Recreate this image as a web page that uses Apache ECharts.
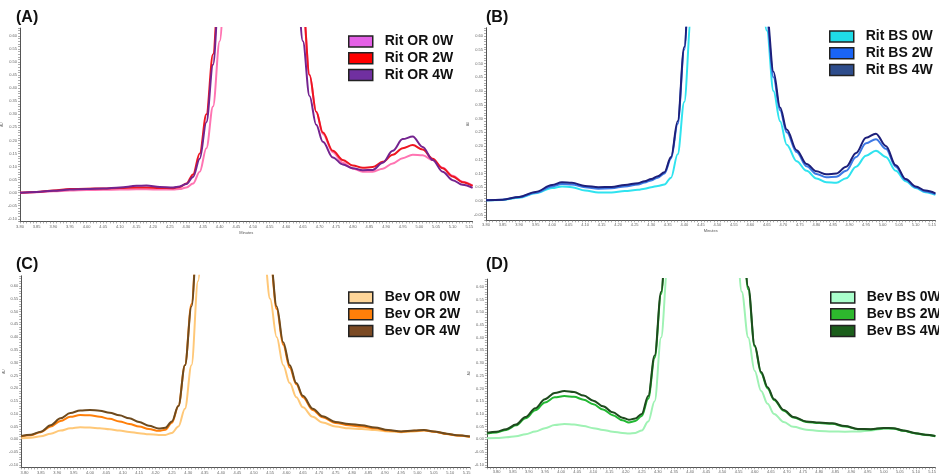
<!DOCTYPE html>
<html>
<head>
<meta charset="utf-8">
<script src="https://cdn.jsdelivr.net/npm/echarts@6/dist/echarts.min.js"></script>
<style>
html, body { margin: 0; padding: 0; background: #fff; }
#chart { width: 939px; height: 476px; }
</style>
</head>
<body>
<div id="chart"></div>
<script>
(function(g) {
    'use strict';

    // (A) Rit OR - retention time (min) and absorbance (AU)
    var xRitOR = [3.80, 3.85, 3.90, 3.95, 4.00, 4.05, 4.10, 4.15, 4.18, 4.22, 4.26, 4.28, 4.30, 4.32, 4.34, 4.36, 4.38, 4.40, 4.42, 4.45,
        4.55, 4.60, 4.63, 4.65, 4.67, 4.69, 4.71, 4.74, 4.77, 4.80, 4.83, 4.86, 4.89, 4.92, 4.95, 4.98, 5.01, 5.04, 5.07, 5.10, 5.13, 5.16];
    var ritOR0W = [0.000, 0.002, 0.005, 0.008, 0.010, 0.011, 0.012, 0.013, 0.013, 0.012, 0.012, 0.014, 0.020, 0.035, 0.08, 0.17, 0.33, 0.58, 0.90, 1.40,
        1.60, 1.50, 1.00, 0.72, 0.45, 0.31, 0.225, 0.155, 0.115, 0.092, 0.080, 0.080, 0.092, 0.112, 0.132, 0.145, 0.143, 0.125, 0.095, 0.065, 0.042, 0.027];
    var ritOR2W = [0.000, 0.003, 0.008, 0.014, 0.015, 0.016, 0.018, 0.020, 0.020, 0.018, 0.017, 0.022, 0.035, 0.07, 0.15, 0.30, 0.53, 0.85, 1.20, 1.60,
        1.60, 1.50, 1.00, 0.72, 0.45, 0.31, 0.23, 0.16, 0.125, 0.104, 0.095, 0.098, 0.118, 0.145, 0.170, 0.182, 0.165, 0.130, 0.093, 0.062, 0.040, 0.026];
    var ritOR4W = [0.000, 0.003, 0.007, 0.012, 0.014, 0.016, 0.020, 0.026, 0.027, 0.022, 0.020, 0.024, 0.033, 0.06, 0.13, 0.27, 0.49, 0.80, 1.15, 1.60,
        1.60, 1.30, 0.85, 0.58, 0.37, 0.26, 0.195, 0.135, 0.108, 0.093, 0.086, 0.087, 0.115, 0.160, 0.205, 0.215, 0.175, 0.125, 0.080, 0.048, 0.030, 0.018];

    // (B) Rit BS
    var xRitBS = [3.80, 3.85, 3.90, 3.95, 4.00, 4.03, 4.06, 4.10, 4.14, 4.18, 4.22, 4.26, 4.28, 4.30, 4.32, 4.34, 4.36, 4.38, 4.40, 4.42, 4.45,
        4.55, 4.60, 4.63, 4.65, 4.67, 4.69, 4.71, 4.74, 4.77, 4.80, 4.83, 4.86, 4.89, 4.92, 4.95, 4.98, 5.01, 5.04, 5.07, 5.10, 5.13, 5.16];
    var ritBS0W = [0.003, 0.004, 0.012, 0.028, 0.047, 0.053, 0.050, 0.038, 0.031, 0.031, 0.036, 0.041, 0.045, 0.050, 0.055, 0.060, 0.085, 0.17, 0.36, 0.66, 1.20,
        1.50, 1.05, 0.80, 0.62, 0.40, 0.29, 0.205, 0.145, 0.110, 0.082, 0.068, 0.066, 0.083, 0.125, 0.165, 0.183, 0.160, 0.110, 0.072, 0.047, 0.032, 0.022];
    var ritBS2W = [0.003, 0.005, 0.014, 0.030, 0.053, 0.062, 0.060, 0.050, 0.045, 0.046, 0.053, 0.060, 0.067, 0.075, 0.085, 0.100, 0.155, 0.28, 0.55, 0.94, 1.50,
        1.60, 1.15, 0.85, 0.65, 0.45, 0.33, 0.25, 0.178, 0.126, 0.098, 0.086, 0.088, 0.110, 0.160, 0.210, 0.225, 0.190, 0.125, 0.077, 0.050, 0.035, 0.025];
    var ritBS4W = [0.003, 0.005, 0.015, 0.033, 0.058, 0.068, 0.066, 0.055, 0.050, 0.051, 0.058, 0.065, 0.072, 0.080, 0.090, 0.105, 0.160, 0.29, 0.56, 0.95, 1.50,
        1.60, 1.20, 0.88, 0.68, 0.47, 0.34, 0.26, 0.185, 0.135, 0.108, 0.097, 0.100, 0.125, 0.175, 0.230, 0.245, 0.200, 0.130, 0.080, 0.053, 0.038, 0.028];

    // (C) Bev OR
    var xBevOR = [3.79, 3.82, 3.85, 3.88, 3.91, 3.94, 3.97, 4.00, 4.03, 4.06, 4.09, 4.12, 4.15, 4.18, 4.21, 4.23, 4.25, 4.27, 4.29, 4.31, 4.33, 4.35, 4.40,
        4.50, 4.53, 4.55, 4.57, 4.59, 4.61, 4.63, 4.65, 4.68, 4.71, 4.75, 4.79, 4.83, 4.87, 4.91, 4.95, 4.99, 5.02, 5.05, 5.09, 5.12, 5.16];
    var bevOR0W = [0.004, 0.006, 0.012, 0.022, 0.034, 0.043, 0.047, 0.046, 0.043, 0.039, 0.034, 0.029, 0.024, 0.020, 0.017, 0.017, 0.025, 0.05, 0.12, 0.29, 0.62, 1.00, 1.80,
        1.10, 0.75, 0.55, 0.40, 0.29, 0.22, 0.165, 0.125, 0.088, 0.066, 0.050, 0.043, 0.040, 0.036, 0.031, 0.028, 0.031, 0.034, 0.030, 0.021, 0.015, 0.010];
    var bevOR2W = [0.012, 0.016, 0.028, 0.050, 0.072, 0.088, 0.095, 0.094, 0.088, 0.080, 0.070, 0.060, 0.050, 0.040, 0.033, 0.037, 0.065, 0.13, 0.29, 0.53, 0.86, 1.30, 2.00,
        1.50, 0.95, 0.71, 0.51, 0.37, 0.28, 0.215, 0.165, 0.115, 0.086, 0.064, 0.055, 0.050, 0.043, 0.034, 0.030, 0.033, 0.035, 0.030, 0.021, 0.015, 0.010];
    var bevOR4W = [0.013, 0.018, 0.030, 0.055, 0.082, 0.103, 0.113, 0.115, 0.112, 0.104, 0.094, 0.082, 0.068, 0.053, 0.042, 0.045, 0.070, 0.13, 0.29, 0.52, 0.85, 1.30, 2.00,
        1.50, 0.95, 0.72, 0.52, 0.38, 0.29, 0.22, 0.17, 0.12, 0.09, 0.068, 0.060, 0.055, 0.046, 0.036, 0.031, 0.034, 0.036, 0.031, 0.022, 0.016, 0.011];

    // (D) Bev BS
    var xBevBS = [3.77, 3.80, 3.83, 3.86, 3.89, 3.92, 3.95, 3.98, 4.01, 4.04, 4.07, 4.10, 4.13, 4.16, 4.19, 4.21, 4.23, 4.25, 4.27, 4.29, 4.31, 4.33, 4.36, 4.45,
        4.50, 4.54, 4.56, 4.58, 4.60, 4.62, 4.64, 4.66, 4.69, 4.72, 4.76, 4.80, 4.84, 4.88, 4.92, 4.96, 5.00, 5.03, 5.06, 5.10, 5.13, 5.16];
    var bevBS0W = [0.004, 0.005, 0.008, 0.012, 0.020, 0.031, 0.044, 0.056, 0.060, 0.058, 0.052, 0.044, 0.037, 0.030, 0.025, 0.023, 0.025, 0.035, 0.07, 0.15, 0.40, 0.68, 1.10, 2.00,
        1.60, 0.85, 0.58, 0.40, 0.27, 0.19, 0.14, 0.10, 0.068, 0.049, 0.038, 0.033, 0.031, 0.030, 0.031, 0.035, 0.042, 0.042, 0.034, 0.024, 0.018, 0.013];
    var bevBS2W = [0.023, 0.027, 0.037, 0.055, 0.083, 0.114, 0.145, 0.165, 0.170, 0.167, 0.156, 0.138, 0.117, 0.095, 0.075, 0.066, 0.072, 0.092, 0.16, 0.32, 0.57, 0.90, 1.40, 2.00,
        2.00, 1.20, 0.84, 0.59, 0.365, 0.26, 0.20, 0.155, 0.112, 0.086, 0.068, 0.064, 0.061, 0.050, 0.040, 0.039, 0.044, 0.043, 0.034, 0.023, 0.017, 0.012];
    var bevBS4W = [0.026, 0.030, 0.040, 0.058, 0.088, 0.122, 0.158, 0.182, 0.190, 0.186, 0.172, 0.152, 0.130, 0.106, 0.085, 0.077, 0.082, 0.100, 0.17, 0.33, 0.58, 0.90, 1.40, 2.00,
        2.00, 1.20, 0.85, 0.60, 0.37, 0.265, 0.205, 0.158, 0.115, 0.088, 0.070, 0.066, 0.063, 0.052, 0.041, 0.040, 0.045, 0.044, 0.035, 0.024, 0.018, 0.013];

    var panels = [
        { tag: '(A)', x: xRitOR, names: ['Rit OR 0W', 'Rit OR 2W', 'Rit OR 4W'], ys: [ritOR0W, ritOR2W, ritOR4W],
          lines: ['#ff74b2', '#ee1520', '#74238f'], boxes: ['#e460e6', '#ff0000', '#7030a0'],
          grid: { left: 16, top: 28.1, width: 456.6, height: 193.3 }, xr: [3.80, 5.16], yr: [-0.11, 0.63],
          tagPos: [16, 10], legendPos: [348, 34.5], showName: true },
        { tag: '(B)', x: xRitBS, names: ['Rit BS 0W', 'Rit BS 2W', 'Rit BS 4W'], ys: [ritBS0W, ritBS2W, ritBS4W],
          lines: ['#2fe3ef', '#3d78e4', '#1d1f7a'], boxes: ['#1fdbe6', '#1a64f5', '#2e4d8c'],
          grid: { left: 486, top: 27.75, width: 456.6, height: 192.5 }, xr: [3.80, 5.16], yr: [-0.07, 0.63],
          tagPos: [486, 10], legendPos: [829, 29.5], showName: true },
        { tag: '(C)', x: xBevOR, names: ['Bev OR 0W', 'Bev OR 2W', 'Bev OR 4W'], ys: [bevOR0W, bevOR2W, bevOR4W],
          lines: ['#ffc878', '#ff7f0a', '#6e4a1e'], boxes: ['#ffd699', '#ff7f0a', '#7b4a24'],
          grid: { left: 21.2, top: 275.8, width: 448.7, height: 191.6 }, xr: [3.79, 5.16], yr: [-0.11, 0.64],
          tagPos: [16, 256.5], legendPos: [348, 290.5], showName: false },
        { tag: '(D)', x: xBevBS, names: ['Bev BS 0W', 'Bev BS 2W', 'Bev BS 4W'], ys: [bevBS0W, bevBS2W, bevBS4W],
          lines: ['#9ff2b4', '#22b833', '#1e4a1e'], boxes: ['#aaffcc', '#2db82d', '#1b5e1b'],
          grid: { left: 486.9, top: 279.1, width: 453.6, height: 188.2 }, xr: [3.77, 5.16], yr: [-0.11, 0.63],
          tagPos: [486, 257], legendPos: [830, 290.5], showName: false }
    ];

    function pairs(xs, ys) {
        var out = [];
        for (var i = 0; i < xs.length; i++) {
            out.push([xs[i], ys[i]]);
        }
        return out;
    }

    // only every 0.05 gets a label, ticks every 0.01
    function tickLabel(v) {
        var k = Math.round(v * 100);
        return (k % 5 === 0) ? (k / 100).toFixed(2) : '';
    }

    var axisLineStyle = { color: '#555', width: 1 };
    var grids = [], xAxes = [], yAxes = [], series = [], legends = [], titles = [];

    panels.forEach(function(p, i) {
        grids.push(p.grid);

        xAxes.push({
            type: 'value', gridIndex: i, min: p.xr[0], max: p.xr[1], interval: 0.01,
            name: p.showName ? 'Minutes' : '', nameLocation: 'middle', nameGap: 9,
            nameTextStyle: { fontSize: 4, color: '#555', fontFamily: 'Liberation Sans' },
            axisLine: { onZero: false, lineStyle: axisLineStyle },
            axisTick: { length: 2, lineStyle: { color: '#777', width: 0.6 } },
            axisLabel: { formatter: tickLabel, fontSize: 4, color: '#666', margin: 3, fontFamily: 'Liberation Sans' },
            splitLine: { show: false }
        });

        yAxes.push({
            type: 'value', gridIndex: i, min: p.yr[0], max: p.yr[1], interval: 0.01,
            name: 'AU', nameLocation: 'middle', nameGap: 6, nameRotate: 90,
            nameTextStyle: { fontSize: 3, color: '#555', fontFamily: 'Liberation Sans' },
            axisLine: { show: true, lineStyle: axisLineStyle },
            axisTick: { show: true, length: 2, lineStyle: { color: '#777', width: 0.6 } },
            axisLabel: { formatter: tickLabel, fontSize: 4, color: '#666', margin: 3, fontFamily: 'Liberation Sans' },
            splitLine: { show: false }
        });

        var legendData = [];
        p.names.forEach(function(name, j) {
            series.push({
                name: name, type: 'line', xAxisIndex: i, yAxisIndex: i,
                data: pairs(p.x, p.ys[j]),
                showSymbol: false, smooth: 0.35, smoothMonotone: 'x', clip: true,
                lineStyle: { color: p.lines[j], width: 2 },
                itemStyle: { color: p.lines[j] },
                z: 2 + j
            });
            legendData.push({ name: name, itemStyle: { color: p.boxes[j] } });
        });

        legends.push({
            data: legendData, orient: 'vertical', left: p.legendPos[0], top: p.legendPos[1],
            icon: 'rect', itemWidth: 24, itemHeight: 11, itemGap: 2.7, padding: 0,
            itemStyle: { borderColor: '#222', borderWidth: 1.5 },
            textStyle: { fontSize: 14, fontWeight: 'bold', color: '#111', fontFamily: 'Liberation Sans',
                lineHeight: 14, padding: [0, 0, 0, 7] },
            selectedMode: false
        });

        titles.push({
            text: p.tag, left: p.tagPos[0], top: p.tagPos[1], padding: 0,
            textStyle: { fontSize: 16, fontWeight: 'bold', color: '#111', fontFamily: 'Liberation Sans' }
        });
    });

    var chart = echarts.init(document.getElementById('chart'), null, { renderer: 'canvas' });
    chart.setOption({
        animation: false,
        backgroundColor: '#fff',
        title: titles,
        legend: legends,
        grid: grids,
        xAxis: xAxes,
        yAxis: yAxes,
        series: series
    });

})(window);
</script>
</body>
</html>
